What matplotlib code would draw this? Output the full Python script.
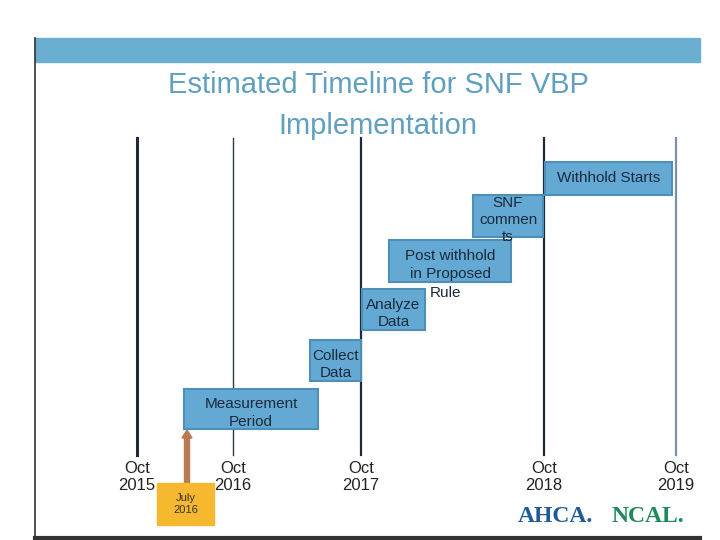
import matplotlib.pyplot as plt
from matplotlib.patches import Rectangle, FancyArrow

# slide is laid out in pixel units (720 x 540, y down)
years = ["Oct\n2015", "Oct\n2016", "Oct\n2017", "Oct\n2018", "Oct\n2019"]
year_x = [137, 233, 361, 544, 676]
year_colors = ["#1d2a3a", "#2a3a4a", "#1d2a3a", "#1d2a3a", "#7d8fa8"]
year_widths = [2.2, 1.0, 1.6, 1.6, 1.6]

tasks = ["Measurement\nPeriod", "Collect\nData", "Analyze\nData",
         "Post withhold\nin Proposed", "SNF\ncommen\nts", "Withhold Starts"]
task_left = [184, 310, 362, 389, 473, 545]
task_right = [318, 361, 425, 511, 543, 672]
task_top = [389, 340, 289, 240, 195, 162]
task_bottom = [429, 381, 330, 282, 237, 195]

fig = plt.figure(figsize=(7.2, 5.4), dpi=100)
ax = fig.add_axes([0, 0, 1, 1])
ax.set_xlim(0, 720)
ax.set_ylim(540, 0)
ax.axis("off")

# slide frame
ax.add_patch(Rectangle((35, 38), 665, 24, color="#6aaed2", zorder=1))
ax.plot([35, 35], [38, 540], color="#333333", lw=1.2)
ax.plot([35, 700], [538, 538], color="#333333", lw=3)

ax.text(378, 85, "Estimated Timeline for SNF VBP", ha="center", va="center",
        fontsize=21, color="#5f9fbf", family="Liberation Sans")
ax.text(378, 126, "Implementation", ha="center", va="center",
        fontsize=21, color="#5f9fbf", family="Liberation Sans")

for lab, x, c, w in zip(years, year_x, year_colors, year_widths):
    ax.plot([x, x], [138, 455], color=c, lw=w, zorder=2)
    ax.text(x, 477, lab, ha="center", va="center", fontsize=12,
            color="#222222", family="Liberation Sans", linespacing=1.2)

for lab, l, r, t, b in zip(tasks, task_left, task_right, task_top, task_bottom):
    ax.add_patch(Rectangle((l, t), r - l, b - t, facecolor="#64a9d4",
                           edgecolor="#4d8fb8", lw=1.5, zorder=3))
    ax.text((l + r) / 2, (t + b) / 2 + (4 if lab.count("\n") else 0), lab,
            ha="center", va="center", fontsize=11, color="#1a2a3a",
            family="Liberation Sans", zorder=4, linespacing=1.3)
ax.text(430, 293, "Rule", ha="left", va="center", fontsize=11,
        color="#1a2a3a", family="Liberation Sans", zorder=4)

# July 2016 marker
ax.add_patch(FancyArrow(187, 483, 0, -53, width=5, head_width=10,
                        head_length=8, length_includes_head=True,
                        color="#b87a50", zorder=3))
ax.add_patch(Rectangle((157, 483), 57, 42, color="#f5b82e", zorder=3))
ax.text(185.5, 504, "July\n2016", ha="center", va="center", fontsize=8,
        color="#333333", family="Liberation Sans", zorder=4)

ax.text(555, 517, "AHCA.", ha="center", va="center", fontsize=17,
        fontweight="bold", color="#1f5b99", family="Liberation Serif")
ax.text(648, 517, "NCAL.", ha="center", va="center", fontsize=17,
        fontweight="bold", color="#1e8a5a", family="Liberation Serif")

fig.savefig("out.png", dpi=100)
